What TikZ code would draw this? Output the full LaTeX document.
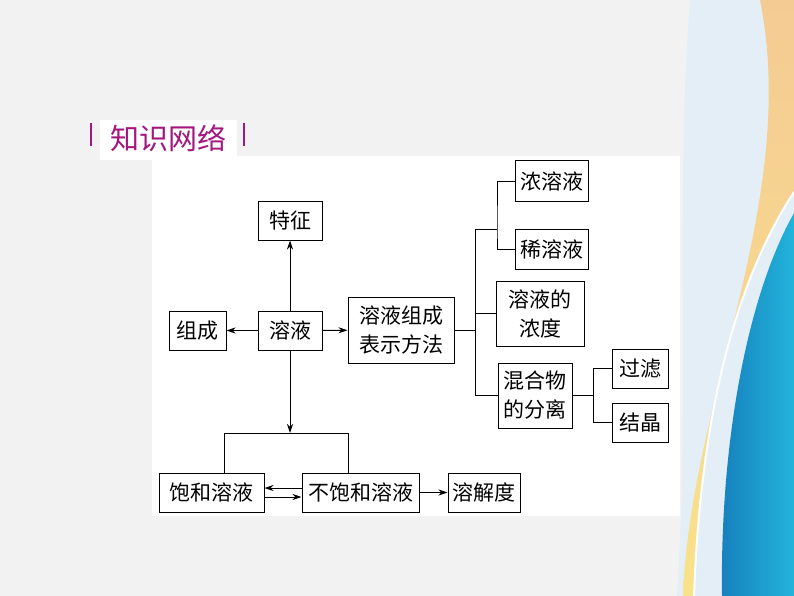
\documentclass[tikz,border=0pt]{standalone}
\usepackage{fontspec}
\usepackage{tikz}
\usetikzlibrary{arrows.meta}
\newfontfamily\cjk{Noto Sans CJK SC}
\definecolor{slidegray}{HTML}{F2F2F2}
\definecolor{wash}{HTML}{E4EEF7}
\definecolor{titlepink}{HTML}{A3177F}
\definecolor{bandorange}{HTML}{F5CB94}
\definecolor{bandyellow}{HTML}{F8E28A}
\definecolor{deepblue}{HTML}{1680BD}
\definecolor{lightblue}{HTML}{22B4DA}

\tikzset{
  box/.style={draw, line width=1pt, align=center, inner sep=0pt,
    font=\cjk\fontsize{21}{29}\selectfont},
  link/.style={line width=1pt},
  arr/.style={line width=1pt, -{Stealth[length=9pt,width=6pt]}}
}

\begin{document}
\begin{tikzpicture}[x=1pt, y=-1pt]
        % slide background
        \fill[slidegray] (0,0) rectangle (794,596);
        \useasboundingbox (0,0) rectangle (794,596);
        \fill[wash] (690,0) .. controls (675,200) and (690,400) .. (677,596) -- (794,596) -- (794,0) -- cycle;
        \shade[top color=bandorange, bottom color=bandyellow]
            (760,0) -- (794,0) -- (794,192) .. controls (730,290) and (700,430) .. (694,596)
            -- (683,596) .. controls (690,400) and (800,200) .. (760,0) -- cycle;
        \draw[white, line width=2pt] (794,192) .. controls (730,290) and (700,430) .. (694,596);
        \shade[left color=deepblue, right color=lightblue]
            (794,213) .. controls (745,300) and (720,450) .. (722,596) -- (794,596) -- cycle;
        \fill[white] (100,120) rectangle (237,160);
        \fill[white] (152,156) rectangle (680,516);

        % title
        \node[text=titlepink, font=\cjk\fontsize{29}{30}\selectfont] (title) at (168,138) {知识网络};
        \draw[titlepink, line width=1.4pt] (91,123) -- (91,146);
        \draw[titlepink, line width=1.4pt] (244,123) -- (244,146);

        % boxes
        \node[box, minimum width=64, minimum height=39] (tezheng) at (290,220.5) {特征};
        \node[box, minimum width=64, minimum height=39] (rongye) at (290,330.5) {溶液};
        \node[box, minimum width=57, minimum height=39] (zucheng) at (197.5,330.5) {组成};
        \node[box, minimum width=106, minimum height=66] (biaoshi) at (401,330) {溶液组成\\表示方法};
        \node[box, minimum width=73, minimum height=40] (nong) at (551.5,181) {浓溶液};
        \node[box, minimum width=73, minimum height=40] (xi) at (551.5,249) {稀溶液};
        \node[box, minimum width=88, minimum height=65] (nongdu) at (540,313.5) {溶液的\\浓度};
        \node[box, minimum width=74, minimum height=65] (hunhe) at (535,395.5) {混合物\\的分离};
        \node[box, minimum width=56, minimum height=39] (guolv) at (640,368.5) {过滤};
        \node[box, minimum width=56, minimum height=39] (jiejing) at (640,422.5) {结晶};
        \node[box, minimum width=105, minimum height=39] (baohe) at (211.5,492.5) {饱和溶液};
        \node[box, minimum width=117, minimum height=39] (bubaohe) at (360.5,492.5) {不饱和溶液};
        \node[box, minimum width=72, minimum height=39] (rongjie) at (484,492.5) {溶解度};

        % branch points
        \coordinate (trunk) at (475,229);
        \coordinate (fork) at (497,229);
        \coordinate (split) at (593,395.5);
        \coordinate (barL) at (224,433);
        \coordinate (barR) at (348,433);
        \coordinate (barM) at (290,433);

        \draw[arr] (rongye) -- (tezheng);
        \draw[arr] (rongye) -- (zucheng);
        \draw[arr] (rongye) -- (biaoshi);

        \draw[link] (biaoshi.east) -- (biaoshi.east -| trunk);
        \draw[link] (trunk) |- (hunhe.west);
        \draw[link] (nongdu.west -| trunk) -- (nongdu.west);
        \draw[link] (trunk) -- (fork);
        \draw[link] (nong.west) -| (fork) |- (xi.west);
        \draw[link] (hunhe.east) -- (split);
        \draw[link] (guolv.west) -| (split) |- (jiejing.west);

        \draw[arr] (rongye) -- (barM);
        \draw[link] (barL |- baohe.north) -- (barL) -- (barR) -- (barR |- bubaohe.north);
        \draw[arr] ([yshift=4.5pt]bubaohe.west) -- ([yshift=4.5pt]baohe.east);
        \draw[arr] ([yshift=-4.5pt]baohe.east) -- ([yshift=-4.5pt]bubaohe.west);
        \draw[arr] (bubaohe) -- (rongjie);
\end{tikzpicture}
\end{document}
